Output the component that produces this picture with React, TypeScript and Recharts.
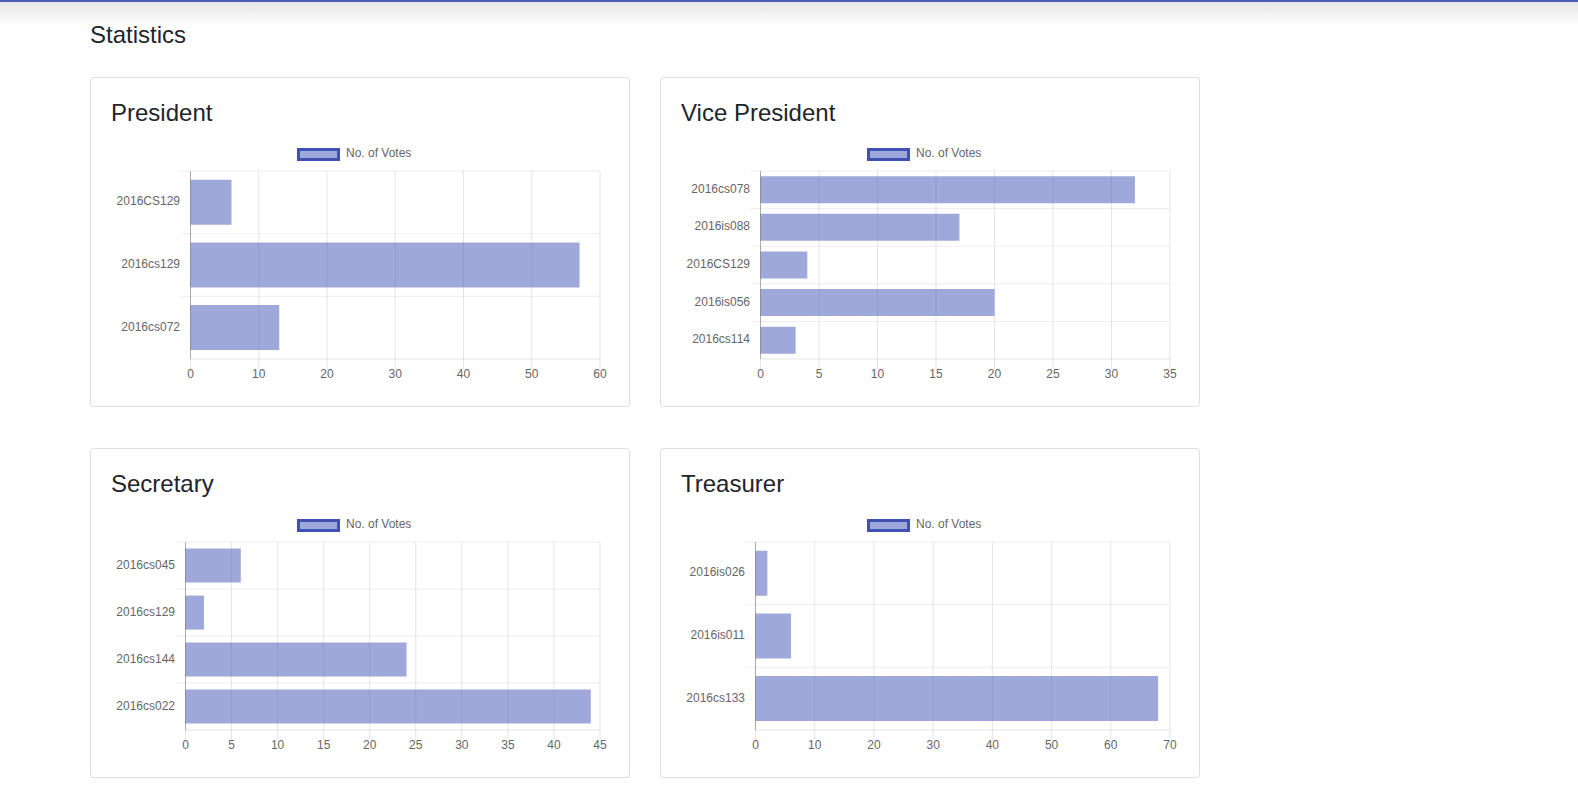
import React from "react";
import { BarChart, Bar, XAxis, YAxis, CartesianGrid, Legend } from "recharts";

// values
const presidentNames = ["2016CS129", "2016cs129", "2016cs072"];
const presidentVotes = [6, 57, 13];
const presidentTicks = [0, 10, 20, 30, 40, 50, 60];

const vicePresidentNames = ["2016cs078", "2016is088", "2016CS129", "2016is056", "2016cs114"];
const vicePresidentVotes = [32, 17, 4, 20, 3];
const vicePresidentTicks = [0, 5, 10, 15, 20, 25, 30, 35];

const secretaryNames = ["2016cs045", "2016cs129", "2016cs144", "2016cs022"];
const secretaryVotes = [6, 2, 24, 44];
const secretaryTicks = [0, 5, 10, 15, 20, 25, 30, 35, 40, 45];

const treasurerNames = ["2016is026", "2016is011", "2016cs133"];
const treasurerVotes = [2, 6, 68];
const treasurerTicks = [0, 10, 20, 30, 40, 50, 60, 70];

const FONT = '"Liberation Sans", Arial, Helvetica, sans-serif';
const CHART_W = 498;
const CHART_H = 251;
const LEGEND_H = 36;
const XAXIS_H = 27;
const PLOT_H = CHART_H - LEGEND_H - XAXIS_H;

const V_GRID = "rgba(0,0,0,0.1)";
const H_GRID = "rgba(0,0,0,0.07)";
const ZERO_LINE = "rgba(0,0,0,0.25)";
const BAR_FILL = "rgba(63,81,181,0.5)";

function VotesLegend() {
  return (
    <div style={{ position: "relative", height: LEGEND_H, width: CHART_W }}>
      <div
        style={{
          position: "absolute",
          left: 186,
          top: 13,
          width: 37,
          height: 7,
          border: "3px solid #3f51b5",
          background: "#9fa8da",
        }}
      />
      <div
        style={{
          position: "absolute",
          left: 235,
          top: 11,
          fontSize: 12,
          lineHeight: "14px",
          color: "#666",
          whiteSpace: "nowrap",
        }}
      >
        No. of Votes
      </div>
    </div>
  );
}

interface StatCardProps {
  title: string;
  names: string[];
  votes: number[];
  ticks: number[];
  yWidth: number;
  left: number;
  top: number;
}

function StatCard({ title, names, votes, ticks, yWidth, left, top }: StatCardProps) {
  const data = names.map((name, i) => ({ name, votes: votes[i] }));
  const band = PLOT_H / names.length;

  const renderTick = (props: any) => {
    const { y, payload } = props;
    return (
      <g>
        <line
          x1={yWidth - 10}
          x2={yWidth}
          y1={y - band / 2}
          y2={y - band / 2}
          stroke={H_GRID}
        />
        <text
          x={yWidth - 10.5}
          y={y}
          dy="0.25em"
          textAnchor="end"
          fill="#666"
          fontSize={12}
        >
          {payload.value}
        </text>
      </g>
    );
  };

  return (
    <div
      style={{
        position: "absolute",
        left,
        top,
        width: 540,
        height: 330,
        boxSizing: "border-box",
        border: "1px solid rgba(0,0,0,0.125)",
        borderRadius: 4,
        padding: 20,
        background: "#fff",
        fontFamily: FONT,
      }}
    >
      <h3
        style={{
          margin: "0 0 8px",
          fontSize: 24,
          lineHeight: "29px",
          fontWeight: 500,
          color: "#212529",
        }}
      >
        {title}
      </h3>
      <BarChart
        width={CHART_W}
        height={CHART_H}
        layout="vertical"
        data={data}
        margin={{ top: 0, right: 9, bottom: 0, left: 0 }}
        barCategoryGap="14%"
      >
        <CartesianGrid horizontal={false} stroke={V_GRID} />
        <CartesianGrid
          vertical={false}
          stroke={H_GRID}
          horizontalCoordinatesGenerator={({ offset }: any) =>
            names.map((_, i) => offset.top + i * band)
          }
        />
        <Legend
          verticalAlign="top"
          align="left"
          content={() => <VotesLegend />}
          wrapperStyle={{ left: 0, top: 0, width: CHART_W }}
        />
        <XAxis
          type="number"
          domain={[0, ticks[ticks.length - 1]]}
          ticks={ticks}
          interval={0}
          height={XAXIS_H}
          tickSize={10}
          tickMargin={0}
          tick={{ fill: "#666", fontSize: 12 }}
          tickLine={{ stroke: V_GRID }}
          axisLine={{ stroke: V_GRID }}
        />
        <YAxis
          type="category"
          dataKey="name"
          width={yWidth}
          interval={0}
          tickLine={false}
          axisLine={{ stroke: ZERO_LINE }}
          tick={renderTick}
        />
        <Bar dataKey="votes" fill={BAR_FILL} isAnimationActive={false} />
      </BarChart>
    </div>
  );
}

export default function App() {
  return (
    <div
      style={{
        position: "absolute",
        left: 0,
        top: 0,
        width: 1578,
        height: 785,
        overflow: "hidden",
        background: "#fff",
        fontFamily: FONT,
      }}
    >
      {/* navbar shadow at the top */}
      <div
        style={{
          position: "absolute",
          left: 0,
          top: 0,
          width: 1578,
          height: 26,
          background: "linear-gradient(to bottom, rgba(0,0,0,0.11), rgba(0,0,0,0))",
        }}
      />
      <div
        style={{
          position: "absolute",
          left: 0,
          top: 0,
          width: 1578,
          height: 2,
          background: "#4e5bb5",
        }}
      />
      <div
        style={{
          position: "absolute",
          left: 90,
          top: 20,
          fontSize: 24,
          lineHeight: "29px",
          fontWeight: 500,
          color: "#212529",
        }}
      >
        Statistics
      </div>

      <StatCard
        title="President"
        names={presidentNames}
        votes={presidentVotes}
        ticks={presidentTicks}
        yWidth={79.5}
        left={90}
        top={77}
      />
      <StatCard
        title="Vice President"
        names={vicePresidentNames}
        votes={vicePresidentVotes}
        ticks={vicePresidentTicks}
        yWidth={79.5}
        left={660}
        top={77}
      />
      <StatCard
        title="Secretary"
        names={secretaryNames}
        votes={secretaryVotes}
        ticks={secretaryTicks}
        yWidth={74.5}
        left={90}
        top={448}
      />
      <StatCard
        title="Treasurer"
        names={treasurerNames}
        votes={treasurerVotes}
        ticks={treasurerTicks}
        yWidth={74.5}
        left={660}
        top={448}
      />
    </div>
  );
}
